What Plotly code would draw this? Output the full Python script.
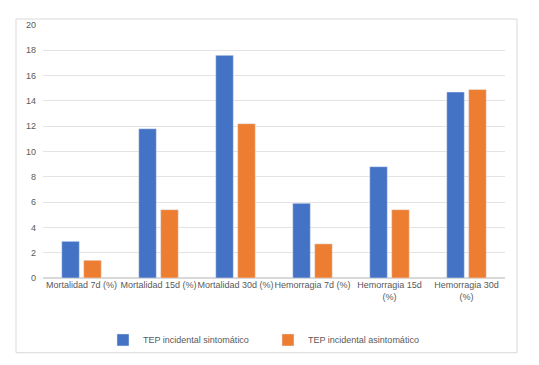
import plotly.graph_objects as go

categories = ["Mortalidad 7d (%)", "Mortalidad 15d (%)", "Mortalidad 30d (%)",
              "Hemorragia 7d (%)", "Hemorragia 15d<br>(%)", "Hemorragia 30d<br>(%)"]
sintomatico = [2.9, 11.8, 17.6, 5.9, 8.8, 14.7]
asintomatico = [1.4, 5.4, 12.2, 2.7, 5.4, 14.9]
series_names = ["TEP incidental sintomático", "TEP incidental asintomático"]
y_ticks = [0, 2, 4, 6, 8, 10, 12, 14, 16, 18, 20]

W, H = 539, 365
L, R, T, B = 43, 34, 25, 86
pw, ph = W - L - R, H - T - B

fig = go.Figure()
fig.add_trace(go.Bar(x=categories, y=sintomatico, name=series_names[0], marker_color="#4472C4"))
fig.add_trace(go.Bar(x=categories, y=asintomatico, name=series_names[1], marker_color="#ED7D31"))

font = dict(family="Liberation Sans, Arial, sans-serif", size=9, color="#595959")

fig.update_layout(
    width=W, height=H,
    margin=dict(l=L, r=R, t=T, b=B),
    paper_bgcolor="white", plot_bgcolor="white",
    barmode="group", bargap=0.43, bargroupgap=0.2,
    font=font,
    showlegend=True,
    legend=dict(orientation="h", x=0.487, xanchor="center", y=-0.24, yanchor="middle",
                font=font, itemwidth=30, entrywidth=120, entrywidthmode="pixels",
                tracegroupgap=0, bgcolor="rgba(0,0,0,0)"),
    xaxis=dict(showgrid=False, showline=False, ticks="", tickfont=font, tickangle=0),
    yaxis=dict(range=[0, 20], tickvals=y_ticks, showgrid=True, gridcolor="#E3E3E3",
               gridwidth=1, zeroline=True, zerolinecolor="#D9D9D9", showline=False,
               ticks="", tickfont=font, ticklabelstandoff=6),
)

# outer chart border
x0 = (16 - L) / pw
x1 = (517 - L) / pw
y_top = (H - B - 19) / ph
y_bot = (H - B - 354) / ph
fig.add_shape(type="rect", xref="paper", yref="paper", x0=x0, x1=x1, y0=y_bot, y1=y_top,
              line=dict(color="#D9D9D9", width=1), fillcolor="rgba(0,0,0,0)", layer="below")

fig.write_html("out.html", config={"displayModeBar": False},
               post_script="document.body.style.margin='0';")
